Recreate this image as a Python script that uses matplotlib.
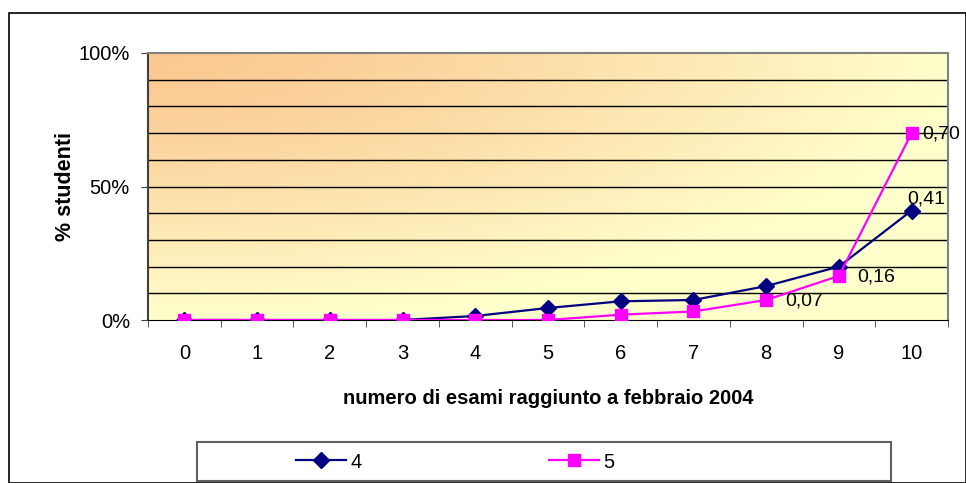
import numpy as np
import matplotlib.pyplot as plt
from matplotlib.patches import Rectangle

plt.rcParams['font.family'] = ['Liberation Sans', 'DejaVu Sans']

# data
categories = ['0', '1', '2', '3', '4', '5', '6', '7', '8', '9', '10']
serie_4 = [0, 0, 0, 0, 0.015, 0.045, 0.07, 0.075, 0.127, 0.20, 0.41]
serie_5 = [0, 0, 0, 0, 0, 0, 0.02, 0.032, 0.075, 0.165, 0.70]
labels_4 = {10: '0,41'}
labels_5 = {8: '0,07', 9: '0,16', 10: '0,70'}

W, H = 966, 483
fig = plt.figure(figsize=(W / 100, H / 100), dpi=100)

# outer chart border
fig.patches.append(Rectangle((9 / W, 0), (W - 9) / W, (H - 13) / H, transform=fig.transFigure,
                             fill=False, edgecolor='black', linewidth=1.2))

ax = fig.add_axes([148 / W, (H - 320) / H, 800 / W, 267 / H])
x = np.arange(len(categories))

# gradient background: orange top-left -> pale yellow
gx, gy = np.meshgrid(np.linspace(0, 1, 200), np.linspace(0, 1, 100))
t = np.clip(np.sqrt(gx ** 2 + gy ** 2), 0, 1) ** 1.3
c0 = np.array([251, 200, 145]) / 255
c1 = np.array([255, 255, 204]) / 255
img = c0[None, None, :] * (1 - t[..., None]) + c1[None, None, :] * t[..., None]
ax.imshow(img, extent=[-0.5, 10.5, 0, 1], aspect='auto', zorder=0)

ax.set_xlim(-0.5, 10.5)
ax.set_ylim(0, 1)

for yv in np.arange(0.1, 1.0, 0.1):
    ax.axhline(yv, color='black', linewidth=1.0, zorder=1)

ax.plot(x, serie_4, color='#000080', marker='D', markersize=8, linewidth=1.6, zorder=3, label='4')
ax.plot(x, serie_5, color='#FF00FF', marker='s', markersize=8, linewidth=1.6, zorder=4, label='5')

for i, s in labels_5.items():
    dx = 8 if i == 10 else 13.5
    ax.annotate(s, (x[i], serie_5[i]), xytext=(dx, -1), textcoords='offset points',
                va='center', ha='left', fontsize=14, zorder=5, annotation_clip=False)
for i, s in labels_4.items():
    ax.annotate(s, (x[i], serie_4[i]), xytext=(-3, 8), textcoords='offset points',
                va='center', ha='left', fontsize=14, zorder=5, annotation_clip=False)

ax.set_yticks([0, 0.5, 1])
ax.set_yticklabels(['0%', '50%', '100%'], fontsize=14.5)
ax.set_xticks(x)
ax.set_xticklabels(categories, fontsize=14.5)
ax.set_xticks(np.arange(-0.5, 11, 1), minor=True)
ax.tick_params(axis='x', which='major', length=0, pad=17)
ax.tick_params(axis='x', which='minor', length=5, direction='out', color='#404040')
ax.tick_params(axis='y', length=5, direction='out', pad=8, color='#404040')

ax.spines['left'].set_color('#404040')
ax.spines['left'].set_linewidth(1.5)
ax.spines['bottom'].set_color('black')
ax.spines['top'].set_color('#808080')
ax.spines['right'].set_color('#808080')
ax.spines['top'].set_linewidth(1.5)
ax.spines['right'].set_linewidth(1.5)

ax.set_xlabel('numero di esami raggiunto a febbraio 2004', fontsize=14.5, fontweight='bold', labelpad=19)
ax.set_ylabel('% studenti', fontsize=15.5, fontweight='bold', labelpad=2)

# legend box
fig.patches.append(Rectangle((197 / W, 2 / H), 694 / W, 39 / H, transform=fig.transFigure,
                             fill=False, edgecolor='#606060', linewidth=1.5))
handles, lbls = ax.get_legend_handles_labels()
fig.legend(handles, lbls, loc='center', bbox_to_anchor=(455 / W, 21 / H), ncol=2, frameon=False,
           fontsize=14.5, handlelength=2.5, handletextpad=0.2, columnspacing=9.3)

fig.savefig('out.png', dpi=100)
